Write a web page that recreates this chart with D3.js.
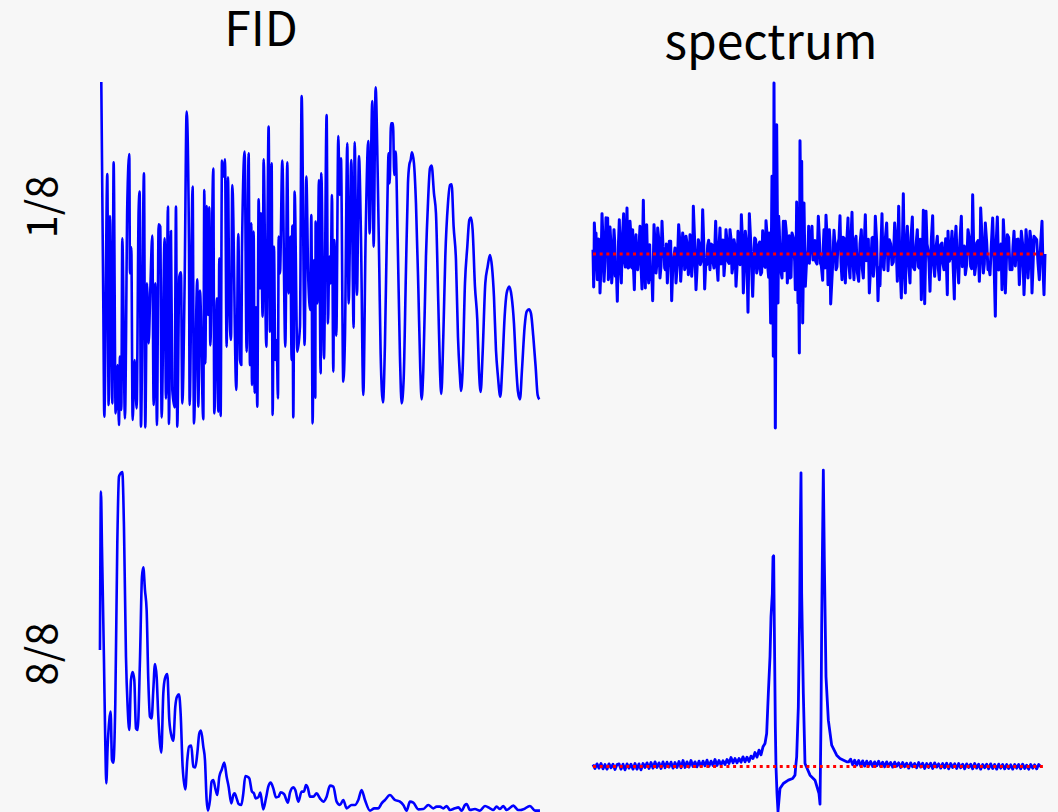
<!DOCTYPE html>
<html><head><meta charset="utf-8">
<script src="https://cdn.jsdelivr.net/npm/d3@7"></script>
<style>html,body{margin:0;padding:0;background:#f7f7f7;overflow:hidden}svg{display:block}text{font-family:"Noto Sans CJK JP","Noto Sans",sans-serif;fill:#000}</style>
</head><body><svg id="c" width="1058" height="812"></svg>
<script>
const columnTitles=["FID","spectrum"];
const rowTitles=["1/8","8/8"];

const fid1T=[34,40,43,52,56,60,67,71,77,83,87,90,94,97,105,112,118,120,124,128,134,140,146,149,153,162,166,171,176,181,187,191,196,201,206,211,215,224,228,234,237,243,247,254,258,262,268,273,277,284,290,297,299,308,312,322,325,330,340,343,346,350,354,358,361,370,373,381,385,388,392,396,400,405,410,414,418,423,427,439,445,450,454,456,464,470,476,480,484,486,491,494,498,502,506,510,513,518,521,529,536,540,545,548,552,556,560,564,566,570,577,586,592,596,601,605,607,610,614,622,630,635,644,649,655,661,664,668,672,676,677,682,687,692,694,702,710,714,718,722,726,730,733,739,745,749,753,760,765,772,776,784,791,794,801,807,813,820,827,835,839,847,851,857,863,868,872,879,885,891,896,899,903,909,913,917,923,930,935,941,948,954,958,962,966,972,978,985,991,995,1000,1008,1014,1020,1025,1032,1038,1045,1050,1054,1060,1066,1074,1080,1085,1091,1098,1104,1110,1113,1118,1125,1132,1138,1143,1148,1155,1162,1167,1172,1178,1186,1193,1200,1206,1212,1218,1224,1231,1237,1244,1250,1258,1265,1272,1278,1284,1290,1296,1304,1310,1317,1323,1330,1337,1343,1348];
const fid1V=[1064,400,60,788,95,662,100,823,70,215,35,240,80,595,55,700,848,490,568,50,230,85,680,735,30,790,28,460,280,440,603,95,460,35,637,630,58,595,115,690,38,617,140,88,690,30,480,493,100,460,975,585,95,750,40,472,90,438,52,740,220,692,365,688,274,804,70,415,75,535,62,828,780,832,270,778,400,290,755,140,608,230,215,552,855,255,850,215,640,155,615,132,388,90,712,445,670,360,832,270,930,315,820,65,570,230,290,115,600,490,828,270,823,430,600,230,633,58,735,255,330,1022,275,780,470,380,665,40,530,117,645,400,770,190,790,235,965,340,540,460,725,195,590,303,902,725,835,165,300,880,400,830,327,883,425,842,600,125,600,887,610,1007,570,1048,800,500,250,103,280,630,850,760,940,940,785,855,600,240,100,170,500,760,815,830,853,820,700,450,200,112,200,540,700,805,813,730,670,400,200,128,300,540,700,755,757,630,530,300,180,137,200,460,570,650,657,620,450,350,200,134,250,460,510,545,510,420,260,180,120,210,360,430,450,420,340,220,135,112,200,330,375,382,370,300,210,125,112];

const spec1T=[9,11,13,18,22,28,30,36,42,48,53,55,60,65,72,76,82,88,94,101,106,111,114,120,126,128,133,138,143,150,156,160,166,170,176,182,188,192,198,203,210,216,222,226,232,238,245,252,258,266,272,278,284,288,295,300,305,310,318,325,331,338,344,350,356,360,366,372,377,384,390,396,402,408,414,420,426,432,438,444,450,454,460,466,474,478,488,494,500,506,512,518,524,528,534,538,542,546,550,552,556,560,564,566,570,576,580,586,592,596,600,606,614,616,620,624,628,630,635,638,642,646,652,656,660,666,672,677,685,691,698,702,708,714,718,722,732,738,744,750,756,762,766,774,780,786,792,798,806,814,820,826,832,838,846,850,856,864,870,876,882,890,898,906,914,922,926,934,940,946,952,960,967,974,982,988,994,1000,1004,1008,1014,1020,1028,1034,1042,1048,1056,1062,1072,1074,1082,1086,1093,1098,1106,1114,1120,1126,1134,1142,1148,1154,1160,1168,1172,1180,1186,1194,1200,1208,1216,1222,1230,1236,1240,1246,1252,1260,1266,1272,1280,1288,1294,1302,1308,1314,1320,1326,1332,1340,1348,1356,1362,1365];
const spec1V=[13,-99,93,63,-77,43,-117,121,-82,109,108,-77,81,-87,73,-67,-142,103,-87,121,-39,138,-42,98,-42,73,-107,58,-47,83,-105,161,-102,88,-87,-77,-140,88,-57,78,-72,98,3,-47,-87,38,-140,-7,-87,88,-82,63,-47,53,-62,58,-67,143,-107,43,-32,133,-105,-32,41,-47,28,-42,98,-79,78,-27,-65,73,-22,73,-57,43,-97,68,-32,118,-117,68,-175,121,-127,48,-57,28,-62,70,-37,100,-47,63,-207,233,-307,513,-522,388,-147,113,-7,-72,98,98,-87,18,-72,63,-22,-107,156,-147,-297,340,278,-207,153,-97,-7,83,13,83,33,-22,113,-27,-79,73,116,-92,73,-150,71,-47,33,115,-77,48,-87,108,-72,125,-77,53,-82,73,-72,118,13,-117,48,-67,113,-140,-95,121,-47,93,43,-32,93,-82,143,-132,181,-117,83,-87,111,-47,73,-42,-137,131,-149,128,13,-112,115,-67,53,-77,33,-47,-122,68,-7,68,-135,83,-87,113,-32,-62,73,-37,178,-62,33,-82,138,-57,93,-47,-62,108,-187,111,-37,-107,103,-117,58,-47,-47,68,43,-92,68,-122,73,-72,68,-117,53,43,-77,98,-122,0];
/* second reading pass: the tighter wiggle that fills the band round the zero line */
const spec1FineT=[12,16,20,25,33,39,45,50,58,63,69,74,79,85,91,97,104,109,117,123,130,136,141,147,153,158,163,168,173,179,185,195,201,206,213,219,224,229,235,242,248,255,262,269,275,281,286,292,298,302,308,314,321,328,335,341,347,353,358,363,369,375,381,387,393,399,405,411,417,423,429,435,441,447,452,457,463,470,476,483,491,497,503,509,515,521,526,531,536,548,554,568,574,578,583,589,594,598,603,610,618,622,626,633,640,644,649,654,658,663,669,675,681,688,694,700,705,711,716,720,727,735,741,747,753,759,764,770,777,783,789,795,802,810,817,823,829,835,842,848,853,860,867,873,879,886,894,902,910,918,930,937,943,949,956,963,970,978,985,991,997,1002,1006,1011,1017,1024,1031,1038,1045,1052,1059,1067,1078,1084,1090,1095,1102,1110,1117,1123,1130,1138,1145,1151,1157,1164,1170,1176,1183,1190,1197,1204,1212,1219,1226,1233,1238,1243,1249,1256,1263,1269,1276,1284,1291,1298,1305,1311,1317,1323,1329,1336,1344,1352,1359];
const spec1FineV=[-40,30,-28,45,-35,42,-22,36,-50,25,-30,40,-44,22,-38,48,-26,33,-40,50,-30,36,-45,20,-35,42,-28,50,-38,28,-45,35,-25,48,-36,22,-42,30,-20,38,-50,18,-32,44,-28,35,-40,25,-30,45,-22,38,-48,30,-18,40,-34,26,-16,30,-24,36,-38,22,-30,42,-20,38,-28,45,-35,24,-40,30,-26,52,-44,28,-38,20,-30,44,-42,36,-55,25,-40,60,-70,55,-45,70,-60,30,-50,65,-40,55,-70,48,-30,60,-55,40,-50,20,-35,12,-28,35,-18,40,-30,48,-35,25,-42,55,-30,40,-52,30,-38,45,-25,50,-40,28,-35,48,-22,40,-55,30,-45,36,-20,44,-34,50,-28,38,-42,24,-32,46,-50,30,-24,40,-36,22,-45,32,-28,50,-40,26,-38,44,-18,36,-48,30,-25,42,-35,20,-44,28,-30,46,-22,38,-50,34,-26,42,-38,24,-32,48,-44,20,-36,40,-28,50,-30,36,-42,26,-20,44,-48,30,-34,38,-25,50,-40,22,-36,45,-30,28,-44,35,-20,40,-38,48,-26,32,-42,24,-34,46,-28,38,-36,30,-24,42,-40,28];

const fid2T=[30,33,36,42,46,49,53,58,62,66,70,76,82,87,92,97,102,108,113,118,123,128,133,138,143,150,156,160,165,170,175,180,185,190,195,200,205,210,214,220,225,232,238,245,250,256,261,267,272,278,286,292,297,304,310,316,322,328,333,340,345,350,354,360,365,370,376,382,388,395,403,410,416,424,430,434,440,446,454,460,466,472,478,486,492,497,505,511,520,528,535,542,550,558,566,572,582,594,600,610,616,625,635,642,648,654,660,670,680,690,700,710,720,730,740,750,760,770,785,795,805,815,825,840,853,865,875,885,900,915,930,940,950,960,970,985,1000,1015,1030,1040,1050,1060,1070,1080,1095,1105,1115,1125,1130,1140,1155,1170,1185,1200,1210,1220,1230,1240,1250,1270,1285,1292,1300,1320,1335,1350];
const fid2V=[486,961,796,456,206,86,196,276,301,156,148,326,806,1006,1016,1020,856,466,316,246,396,420,396,251,246,456,706,734,666,606,396,286,281,366,444,406,286,206,178,356,401,414,276,226,214,316,346,353,296,136,68,156,196,199,136,134,176,236,244,196,156,36,4,36,91,96,71,51,106,126,148,106,76,26,51,56,41,24,21,56,108,106,101,61,56,41,44,58,8,41,76,88,71,44,46,59,54,28,58,74,66,31,61,61,81,71,46,46,56,41,31,46,79,76,31,21,36,11,21,21,36,66,36,4,11,11,26,36,51,36,31,21,4,31,28,8,9,21,11,16,16,11,18,6,11,14,4,21,24,6,9,4,18,11,6,16,9,18,6,19,6,6,8,18,4,4,8,8];

const spec2T=[9,15,21,27,33,39,45,51,57,63,69,75,81,87,93,99,105,111,117,123,129,135,141,147,153,159,165,171,177,183,189,195,201,207,213,219,225,231,237,243,249,255,261,267,273,279,285,291,297,303,309,315,321,327,333,339,345,351,357,363,369,375,381,387,393,399,405,411,417,423,429,435,441,447,453,459,465,471,477,483,489,495,501,507,513,519,525,530,535,540,543,547,549,551,553,556,558,561,564,570,580,595,608,615,617,620,625,629,631,633,634,635,640,645,660,675,687,690,693,695,697,700,703,708,715,725,740,750,770,776,782,788,794,800,806,812,818,824,830,836,842,848,854,860,866,872,878,884,890,896,902,908,914,920,926,932,938,944,950,956,962,968,974,980,986,992,998,1004,1010,1016,1022,1028,1034,1040,1046,1052,1058,1064,1070,1076,1082,1088,1094,1100,1106,1112,1118,1124,1130,1136,1142,1148,1154,1160,1166,1172,1178,1184,1190,1196,1202,1208,1214,1220,1226,1232,1238,1244,1250,1256,1262,1268,1274,1280,1286,1292,1298,1304,1310,1316,1322,1328,1334,1340,1346,1352,1358,1365];
const spec2V=[6,-6,8,-5,9,-7,6,-8,8,-4,7,-9,6,8,-8,7,-10,8,-5,7,-8,9,-8,8,-10,9,-3,11,-6,12,-5,14,-3,11,-6,14,-4,13,-2,13,-5,12,-3,15,-4,18,-3,14,-2,18,0,14,-1,16,0,16,2,19,1,16,3,21,3,18,5,17,6,21,9,27,11,24,11,24,13,29,14,28,15,31,24,42,28,49,35,59,69,99,219,329,449,519,629,632,420,119,-1,-81,-135,-66,-51,-41,-36,-26,-1,29,179,469,719,881,719,519,219,9,-26,-41,-81,-113,139,419,619,889,619,269,139,64,34,24,14,14,22,5,19,4,18,2,17,1,16,3,15,0,14,2,16,0,13,-1,14,1,12,-2,13,1,11,-3,12,-1,10,-5,11,-1,9,-4,12,-2,10,-6,9,-3,10,-6,11,-2,8,-5,9,-4,10,-7,9,-3,8,-6,9,-4,7,-7,8,-3,7,-7,9,-5,7,-8,6,-4,7,-7,8,-6,6,-8,7,-5,6,-7,6,-6,5,-8,6,-5,6,-7,7,-6,4,-8,6,-5,5,-7,6,0];

const svg=d3.select("#c");
const xFid=d3.scaleLinear().domain([34,1348]).range([101.3,539.3]);
const xSpec=d3.scaleLinear().domain([9,1365]).range([593,1045]);
const yFid1=d3.scaleLinear().domain([0,1100]).range([436.67,70]);
const ySpec1=d3.scaleLinear().domain([-500,500]).range([420.67,87.33]);
const yFid2=d3.scaleLinear().domain([0,1056]).range([812,460]);
const ySpec2=d3.scaleLinear().domain([0,900]).range([766.5,466.5]);

function pairs(T,V){return d3.range(Math.min(T.length,V.length)).map(i=>[T[i],V[i]]);}
function trace(data,x,y,curve,w){
  const line=d3.line().curve(curve).x(d=>x(d[0])).y(d=>y(d[1]));
  svg.append("path").datum(data).attr("d",line)
    .attr("fill","none").attr("stroke","#0000ff").attr("stroke-width",w).attr("stroke-linejoin","round");
}
function zero(y){
  svg.append("line").attr("x1",xSpec.range()[0]).attr("x2",xSpec.range()[1])
    .attr("y1",y(0)).attr("y2",y(0)).attr("stroke","#ff0000").attr("stroke-width",3).attr("stroke-dasharray","3,3.67");
}
trace(pairs(fid1T,fid1V),xFid,yFid1,d3.curveMonotoneX,2.6);
trace(d3.merge([pairs(spec1T,spec1V),pairs(spec1FineT,spec1FineV)]).sort((a,b)=>a[0]-b[0]),xSpec,ySpec1,d3.curveLinear,3);zero(ySpec1);
trace(pairs(fid2T,fid2V),xFid,yFid2,d3.curveMonotoneX,2.6);
trace(pairs(spec2T,spec2V),xSpec,ySpec2,d3.curveLinear,2.8);zero(ySpec2);

svg.append("text").attr("x",261).attr("y",46).attr("text-anchor","middle").attr("font-size",48).text(columnTitles[0]);
svg.append("text").attr("x",771).attr("y",59).attr("text-anchor","middle").attr("font-size",48).text(columnTitles[1]);
[[rowTitles[0],207],[rowTitles[1],654]].forEach(([t,yc])=>{
  svg.append("text").attr("transform",`translate(57,${yc}) rotate(-90)`).attr("text-anchor","middle").attr("font-size",42).text(t);
});
</script></body></html>
